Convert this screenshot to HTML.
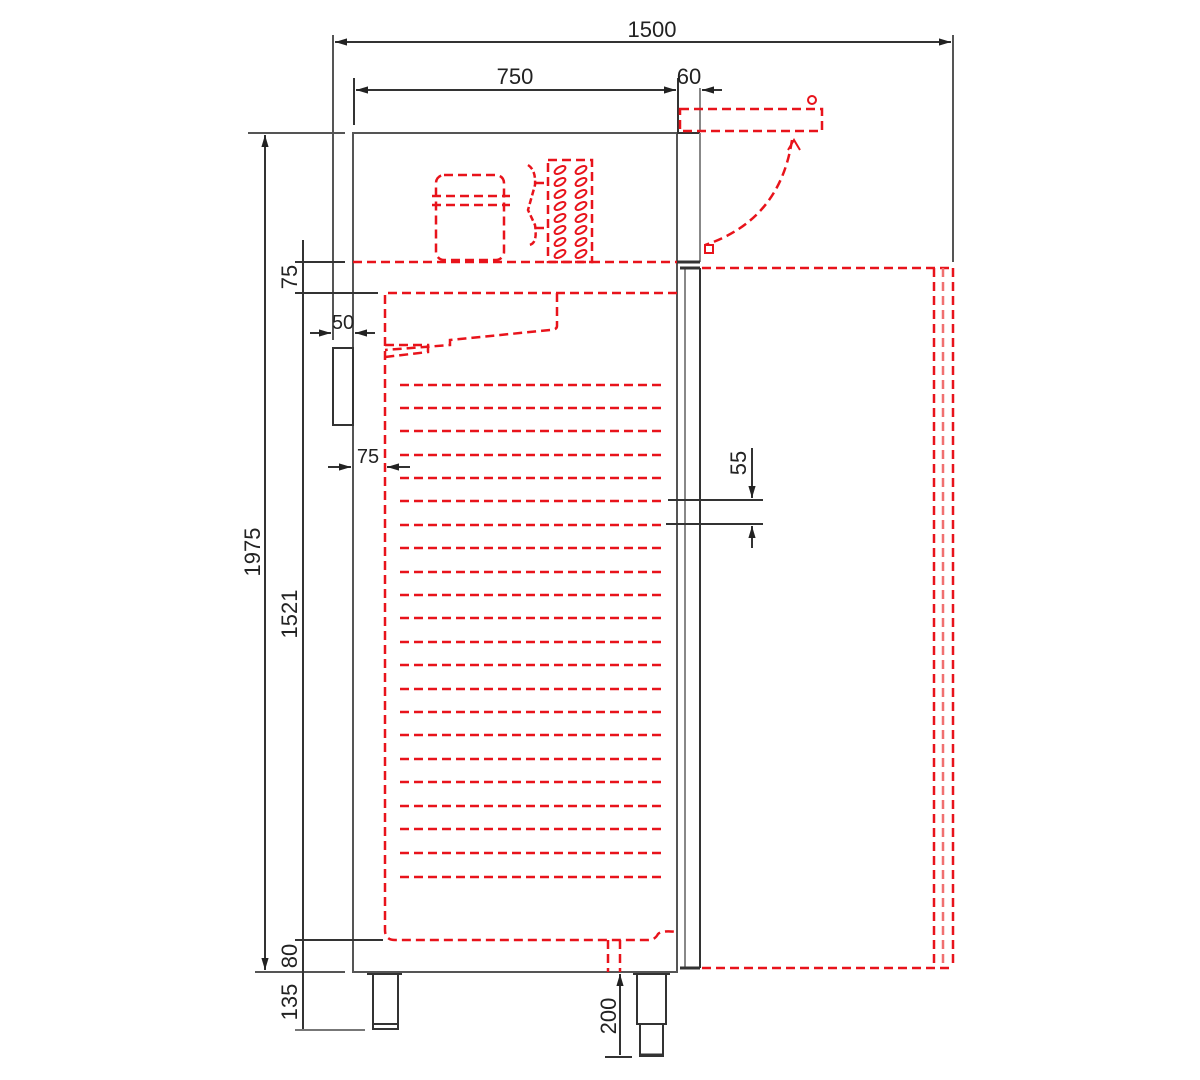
<!DOCTYPE html>
<html><head><meta charset="utf-8"><style>
html,body{margin:0;padding:0;background:#fff;}
svg{display:block;}
text{font-family:"Liberation Sans",sans-serif;font-size:22px;fill:#222;font-stretch:condensed;}
</style></head><body>
<svg width="1200" height="1080" viewBox="0 0 1200 1080" xmlns="http://www.w3.org/2000/svg">
<defs>
<marker id="a" viewBox="0 0 10 10" refX="10" refY="5" markerWidth="8" markerHeight="6" orient="auto-start-reverse"><path d="M0,2 L10,5 L0,8z" fill="#222"/></marker>
</defs>
<g stroke="#333" stroke-width="2" fill="none">
  <line x1="333" y1="35" x2="333" y2="340" stroke="#555"/>
  <line x1="953" y1="35" x2="953" y2="262" stroke="#555"/>
  <line x1="335" y1="42" x2="951" y2="42" marker-start="url(#a)" marker-end="url(#a)"/>
  <line x1="354" y1="78" x2="354" y2="125"/>
  <line x1="356" y1="90" x2="676" y2="90" marker-start="url(#a)" marker-end="url(#a)"/>
  <line x1="678" y1="78" x2="678" y2="133"/>
  <line x1="700" y1="88" x2="700" y2="130" stroke="#888"/>
  <line x1="702" y1="90" x2="722" y2="90" marker-start="url(#a)"/>
  <rect x="353" y="133" width="324" height="839" stroke="#555"/>
  <line x1="677" y1="133" x2="700" y2="133"/>
  <line x1="700" y1="133" x2="700" y2="262" stroke="#888"/>
  <line x1="677" y1="262" x2="700" y2="262" stroke-width="3"/>
  <line x1="685" y1="268" x2="685" y2="968" stroke="#888"/>
  <line x1="700" y1="268" x2="700" y2="968"/>
  <line x1="680" y1="268" x2="700" y2="268" stroke-width="3"/>
  <line x1="680" y1="968" x2="700" y2="968" stroke-width="3"/>
  <rect x="333" y="348" width="20" height="77"/>
  <line x1="248" y1="133" x2="345" y2="133" stroke="#555"/>
  <line x1="265" y1="135" x2="265" y2="970" marker-start="url(#a)" marker-end="url(#a)"/>
  <line x1="255" y1="972" x2="345" y2="972" stroke="#555"/>
  <line x1="295" y1="262" x2="345" y2="262"/>
  <line x1="295" y1="293" x2="378" y2="293"/>
  <line x1="303" y1="240" x2="303" y2="1030"/>
  <line x1="295" y1="940" x2="383" y2="940"/>
  <line x1="295" y1="1030" x2="365" y2="1030" stroke="#777"/>
  <line x1="310" y1="333" x2="331" y2="333" marker-end="url(#a)"/>
  <line x1="375" y1="333" x2="355" y2="333" marker-end="url(#a)"/>
  <line x1="328" y1="467" x2="351" y2="467" marker-end="url(#a)"/>
  <line x1="410" y1="467" x2="387" y2="467" marker-end="url(#a)"/>
  <line x1="668" y1="500" x2="763" y2="500"/>
  <line x1="666" y1="524" x2="763" y2="524"/>
  <line x1="752" y1="448" x2="752" y2="498" marker-end="url(#a)"/>
  <line x1="752" y1="548" x2="752" y2="526" marker-end="url(#a)"/>
  <line x1="367" y1="974" x2="402" y2="974"/>
  <rect x="373" y="974" width="25" height="50"/>
  <rect x="373" y="1024" width="25" height="5"/>
  <line x1="633" y1="974" x2="670" y2="974"/>
  <rect x="637" y="974" width="29" height="50"/>
  <rect x="640" y="1024" width="23" height="32"/>
  <line x1="640" y1="1055" x2="663" y2="1055" stroke-width="3"/>
  <line x1="620" y1="974" x2="620" y2="1055" marker-start="url(#a)"/>
  <line x1="605" y1="1057" x2="632" y2="1057"/>
</g>
<g stroke="#e8131b" stroke-width="2.5" fill="none" stroke-dasharray="9,5">
  <line x1="353" y1="262" x2="677" y2="262"/>
  <line x1="702" y1="268" x2="953" y2="268"/>
  <line x1="702" y1="968" x2="953" y2="968"/>
  <line x1="934" y1="268" x2="934" y2="968"/>
  <line x1="943" y1="268" x2="943" y2="968" stroke="#f07070"/>
  <line x1="953" y1="268" x2="953" y2="968"/>
  <rect x="680" y="109" width="142" height="22"/>
  <circle cx="812" cy="100" r="4" stroke-dasharray="none" stroke-width="2"/>
  <path d="M792,140 Q780,220 705,245"/>
  <path d="M788,150 l6,-10 l6,10" stroke-dasharray="none" stroke-width="2"/>
  <rect x="705" y="245" width="8" height="8" stroke-dasharray="none" stroke-width="2"/>
  <path d="M677,293 H385 V930 Q385,940 395,940 H648 Q655,940 658,934 Q662,930 677,932"/>
  <path d="M557,293 V326 Q557,330 550,330 L450,340 V345 L385,350"/>
  <path d="M385,345 H428 V352 L385,357"/>
  <line x1="608" y1="940" x2="608" y2="972"/>
  <line x1="620" y1="940" x2="620" y2="972"/>
  <rect x="436" y="175" width="68" height="85" rx="8"/>
  <line x1="432" y1="196" x2="510" y2="196"/>
  <line x1="432" y1="205" x2="510" y2="205"/>
  <path d="M528,165 Q536,170 535,185 L528,210 L535,225 Q538,245 528,245" stroke-dasharray="6,3"/>
  <line x1="535" y1="183" x2="548" y2="183"/>
  <line x1="535" y1="228" x2="548" y2="228"/>
  <rect x="548" y="160" width="44" height="102"/>
</g>
<g stroke="#e8131b" stroke-width="2" fill="none">
  <g transform="translate(560,0)">
    <ellipse cx="0" cy="170" rx="6" ry="3" transform="rotate(-30 0 170)"/>
    <ellipse cx="0" cy="182" rx="6" ry="3" transform="rotate(-30 0 182)"/>
    <ellipse cx="0" cy="194" rx="6" ry="3" transform="rotate(-30 0 194)"/>
    <ellipse cx="0" cy="206" rx="6" ry="3" transform="rotate(-30 0 206)"/>
    <ellipse cx="0" cy="218" rx="6" ry="3" transform="rotate(-30 0 218)"/>
    <ellipse cx="0" cy="230" rx="6" ry="3" transform="rotate(-30 0 230)"/>
    <ellipse cx="0" cy="242" rx="6" ry="3" transform="rotate(-30 0 242)"/>
    <ellipse cx="0" cy="254" rx="6" ry="3" transform="rotate(-30 0 254)"/>
  </g>
  <g transform="translate(581,0)">
    <ellipse cx="0" cy="170" rx="6" ry="3" transform="rotate(-30 0 170)"/>
    <ellipse cx="0" cy="182" rx="6" ry="3" transform="rotate(-30 0 182)"/>
    <ellipse cx="0" cy="194" rx="6" ry="3" transform="rotate(-30 0 194)"/>
    <ellipse cx="0" cy="206" rx="6" ry="3" transform="rotate(-30 0 206)"/>
    <ellipse cx="0" cy="218" rx="6" ry="3" transform="rotate(-30 0 218)"/>
    <ellipse cx="0" cy="230" rx="6" ry="3" transform="rotate(-30 0 230)"/>
    <ellipse cx="0" cy="242" rx="6" ry="3" transform="rotate(-30 0 242)"/>
    <ellipse cx="0" cy="254" rx="6" ry="3" transform="rotate(-30 0 254)"/>
  </g>
</g>
<g stroke="#e8131b" stroke-width="2.5" stroke-dasharray="9,5">
  <line x1="400" y1="385" x2="662" y2="385"/>
  <line x1="400" y1="408" x2="662" y2="408"/>
  <line x1="400" y1="431" x2="662" y2="431"/>
  <line x1="400" y1="455" x2="662" y2="455"/>
  <line x1="400" y1="478" x2="662" y2="478"/>
  <line x1="400" y1="501" x2="662" y2="501"/>
  <line x1="400" y1="525" x2="662" y2="525"/>
  <line x1="400" y1="548" x2="662" y2="548"/>
  <line x1="400" y1="572" x2="662" y2="572"/>
  <line x1="400" y1="595" x2="662" y2="595"/>
  <line x1="400" y1="618" x2="662" y2="618"/>
  <line x1="400" y1="642" x2="662" y2="642"/>
  <line x1="400" y1="665" x2="662" y2="665"/>
  <line x1="400" y1="689" x2="662" y2="689"/>
  <line x1="400" y1="712" x2="662" y2="712"/>
  <line x1="400" y1="735" x2="662" y2="735"/>
  <line x1="400" y1="759" x2="662" y2="759"/>
  <line x1="400" y1="782" x2="662" y2="782"/>
  <line x1="400" y1="806" x2="662" y2="806"/>
  <line x1="400" y1="829" x2="662" y2="829"/>
  <line x1="400" y1="853" x2="662" y2="853"/>
  <line x1="400" y1="877" x2="662" y2="877"/>
</g>
<text x="652" y="37" text-anchor="middle">1500</text>
<text x="515" y="84" text-anchor="middle">750</text>
<text x="689" y="84" text-anchor="middle">60</text>
<text x="343" y="329" text-anchor="middle" style="font-size:20px">50</text>
<text x="368" y="463" text-anchor="middle" style="font-size:20px">75</text>
<text transform="translate(260,552) rotate(-90)" text-anchor="middle">1975</text>
<text transform="translate(297,614) rotate(-90)" text-anchor="middle">1521</text>
<text transform="translate(297,277) rotate(-90)" text-anchor="middle">75</text>
<text transform="translate(297,956) rotate(-90)" text-anchor="middle">80</text>
<text transform="translate(297,1002) rotate(-90)" text-anchor="middle">135</text>
<text transform="translate(746,463) rotate(-90)" text-anchor="middle">55</text>
<text transform="translate(616,1016) rotate(-90)" text-anchor="middle">200</text>
</svg>
</body></html>
